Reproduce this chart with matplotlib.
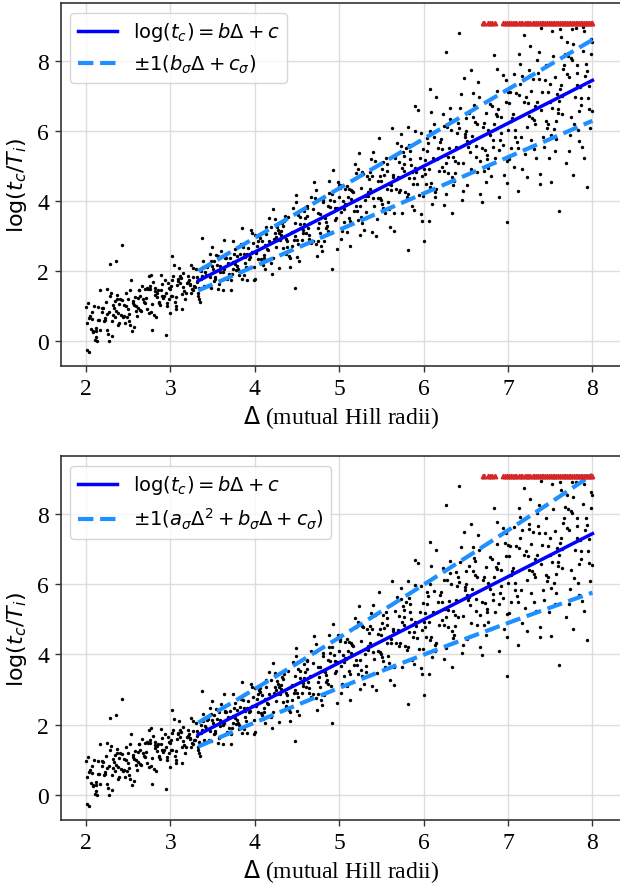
import numpy as np
import matplotlib.pyplot as plt

# instability time vs. spacing in 0.25-wide bands of Delta
delta = [
    # 2.00 - 2.25
    2.012, 2.171, 2.093, 2.228, 2.041, 2.133, 2.204, 2.062, 2.152, 2.023, 2.114, 2.243, 2.081, 2.186, 2.034, 2.145,
    2.213, 2.071, 2.124, 2.004, 2.195, 2.103, 2.052, 2.221, 2.163, 2.088, 2.137, 2.017, 2.236, 2.118, 2.066, 2.247,
    # 2.25 - 2.50
    2.262, 2.421, 2.343, 2.478, 2.291, 2.383, 2.454, 2.312, 2.402, 2.273, 2.364, 2.493, 2.331, 2.436, 2.284, 2.395,
    2.463, 2.321, 2.374, 2.254, 2.445, 2.353, 2.302, 2.471, 2.413, 2.338, 2.387, 2.267, 2.486, 2.368, 2.316, 2.497,
    # 2.50 - 2.75
    2.512, 2.671, 2.593, 2.728, 2.541, 2.633, 2.704, 2.562, 2.652, 2.523, 2.614, 2.743, 2.581, 2.686, 2.534, 2.645,
    2.713, 2.571, 2.624, 2.504, 2.695, 2.603, 2.552, 2.721, 2.663, 2.588, 2.637, 2.517, 2.736, 2.618, 2.566, 2.747,
    # 2.75 - 3.00
    2.762, 2.921, 2.843, 2.978, 2.791, 2.883, 2.954, 2.812, 2.902, 2.773, 2.864, 2.993, 2.831, 2.936, 2.784, 2.895,
    2.963, 2.821, 2.874, 2.754, 2.945, 2.853, 2.802, 2.971, 2.913, 2.838, 2.887, 2.767, 2.986, 2.868, 2.816, 2.997,
    # 3.00 - 3.25
    3.012, 3.171, 3.093, 3.228, 3.041, 3.133, 3.204, 3.062, 3.152, 3.023, 3.114, 3.243, 3.081, 3.186, 3.034, 3.145,
    3.213, 3.071, 3.124, 3.004, 3.195, 3.103, 3.052, 3.221, 3.163, 3.088, 3.137, 3.017, 3.236, 3.118, 3.066, 3.247,
    # 3.25 - 3.50
    3.262, 3.421, 3.343, 3.478, 3.291, 3.383, 3.454, 3.312, 3.402, 3.273, 3.364, 3.493, 3.331, 3.436, 3.284, 3.395,
    3.463, 3.321, 3.374, 3.254, 3.445, 3.353, 3.302, 3.471, 3.413, 3.338, 3.387, 3.267, 3.486, 3.368, 3.316, 3.497,
    # 3.50 - 3.75
    3.512, 3.671, 3.593, 3.728, 3.541, 3.633, 3.704, 3.562, 3.652, 3.523, 3.614, 3.743, 3.581, 3.686, 3.534, 3.645,
    3.713, 3.571, 3.624, 3.504, 3.695, 3.603, 3.552, 3.721, 3.663, 3.588, 3.637, 3.517, 3.736, 3.618, 3.566, 3.747,
    # 3.75 - 4.00
    3.762, 3.921, 3.843, 3.978, 3.791, 3.883, 3.954, 3.812, 3.902, 3.773, 3.864, 3.993, 3.831, 3.936, 3.784, 3.895,
    3.963, 3.821, 3.874, 3.754, 3.945, 3.853, 3.802, 3.971, 3.913, 3.838, 3.887, 3.767, 3.986, 3.868, 3.816, 3.997,
    # 4.00 - 4.25
    4.012, 4.171, 4.093, 4.228, 4.041, 4.133, 4.204, 4.062, 4.152, 4.023, 4.114, 4.243, 4.081, 4.186, 4.034, 4.145,
    4.213, 4.071, 4.124, 4.004, 4.195, 4.103, 4.052, 4.221, 4.163, 4.088, 4.137, 4.017, 4.236, 4.118, 4.066, 4.247,
    # 4.25 - 4.50
    4.262, 4.421, 4.343, 4.478, 4.291, 4.383, 4.454, 4.312, 4.402, 4.273, 4.364, 4.493, 4.331, 4.436, 4.284, 4.395,
    4.463, 4.321, 4.374, 4.254, 4.445, 4.353, 4.302, 4.471, 4.413, 4.338, 4.387, 4.267, 4.486, 4.368, 4.316, 4.497,
    # 4.50 - 4.75
    4.512, 4.671, 4.593, 4.728, 4.541, 4.633, 4.704, 4.562, 4.652, 4.523, 4.614, 4.743, 4.581, 4.686, 4.534, 4.645,
    4.713, 4.571, 4.624, 4.504, 4.695, 4.603, 4.552, 4.721, 4.663, 4.588, 4.637, 4.517, 4.736, 4.618, 4.566, 4.747,
    # 4.75 - 5.00
    4.762, 4.921, 4.843, 4.978, 4.791, 4.883, 4.954, 4.812, 4.902, 4.773, 4.864, 4.993, 4.831, 4.936, 4.784, 4.895,
    4.963, 4.821, 4.874, 4.754, 4.945, 4.853, 4.802, 4.971, 4.913, 4.838, 4.887, 4.767, 4.986, 4.868, 4.816, 4.997,
    # 5.00 - 5.25
    5.012, 5.171, 5.093, 5.228, 5.041, 5.133, 5.204, 5.062, 5.152, 5.023, 5.114, 5.243, 5.081, 5.186, 5.034, 5.145,
    5.213, 5.071, 5.124, 5.004, 5.195, 5.103, 5.052, 5.221, 5.163, 5.088, 5.137, 5.017, 5.236, 5.118, 5.066, 5.247,
    # 5.25 - 5.50
    5.262, 5.421, 5.343, 5.478, 5.291, 5.383, 5.454, 5.312, 5.402, 5.273, 5.364, 5.493, 5.331, 5.436, 5.284, 5.395,
    5.463, 5.321, 5.374, 5.254, 5.445, 5.353, 5.302, 5.471, 5.413, 5.338, 5.387, 5.267, 5.486, 5.368, 5.316, 5.497,
    # 5.50 - 5.75
    5.512, 5.671, 5.593, 5.728, 5.541, 5.633, 5.704, 5.562, 5.652, 5.523, 5.614, 5.743, 5.581, 5.686, 5.534, 5.645,
    5.713, 5.571, 5.624, 5.504, 5.695, 5.603, 5.552, 5.721, 5.663, 5.588, 5.637, 5.517, 5.736, 5.618, 5.566, 5.747,
    # 5.75 - 6.00
    5.762, 5.921, 5.843, 5.978, 5.791, 5.883, 5.954, 5.812, 5.902, 5.773, 5.864, 5.993, 5.831, 5.936, 5.784, 5.895,
    5.963, 5.821, 5.874, 5.754, 5.945, 5.853, 5.802, 5.971, 5.913, 5.838, 5.887, 5.767, 5.986, 5.868, 5.816, 5.997,
    # 6.00 - 6.25
    6.012, 6.171, 6.093, 6.228, 6.041, 6.133, 6.204, 6.062, 6.152, 6.023, 6.114, 6.243, 6.081, 6.186, 6.034, 6.145,
    6.213, 6.071, 6.124, 6.004, 6.195, 6.103, 6.052, 6.221, 6.163, 6.088, 6.137, 6.017, 6.236, 6.118, 6.066, 6.247,
    # 6.25 - 6.50
    6.262, 6.421, 6.343, 6.478, 6.291, 6.383, 6.454, 6.312, 6.402, 6.273, 6.364, 6.493, 6.331, 6.436, 6.284, 6.395,
    6.463, 6.321, 6.374, 6.254, 6.445, 6.353, 6.302, 6.471, 6.413, 6.338, 6.387, 6.267, 6.486, 6.368, 6.316, 6.497,
    # 6.50 - 6.75
    6.512, 6.671, 6.593, 6.728, 6.541, 6.633, 6.704, 6.562, 6.652, 6.523, 6.614, 6.743, 6.581, 6.686, 6.534, 6.645,
    6.713, 6.571, 6.624, 6.504, 6.695, 6.603, 6.552, 6.721, 6.663, 6.588, 6.637, 6.517, 6.736, 6.618, 6.566, 6.747,
    # 6.75 - 7.00
    6.762, 6.921, 6.843, 6.978, 6.791, 6.883, 6.954, 6.812, 6.902, 6.773, 6.864, 6.993, 6.831, 6.936, 6.784, 6.895,
    6.963, 6.821, 6.874, 6.754, 6.945, 6.853, 6.802, 6.971, 6.913, 6.838, 6.887, 6.767, 6.986, 6.868, 6.816, 6.997,
    # 7.00 - 7.25
    7.012, 7.171, 7.093, 7.228, 7.041, 7.133, 7.204, 7.062, 7.152, 7.023, 7.114, 7.243, 7.081, 7.186, 7.034, 7.145,
    7.213, 7.071, 7.124, 7.004, 7.195, 7.103, 7.052, 7.221, 7.163, 7.088, 7.137, 7.017, 7.236, 7.118, 7.066, 7.247,
    # 7.25 - 7.50
    7.262, 7.421, 7.343, 7.478, 7.291, 7.383, 7.454, 7.312, 7.402, 7.273, 7.364, 7.493, 7.331, 7.436, 7.284, 7.395,
    7.463, 7.321, 7.374, 7.254, 7.445, 7.353, 7.302, 7.471, 7.413, 7.338, 7.387, 7.267, 7.486, 7.368, 7.316, 7.497,
    # 7.50 - 7.75
    7.512, 7.671, 7.593, 7.728, 7.541, 7.633, 7.704, 7.562, 7.652, 7.523, 7.614, 7.743, 7.581, 7.686, 7.534, 7.645,
    7.713, 7.571, 7.624, 7.504, 7.695, 7.603, 7.552, 7.721, 7.663, 7.588, 7.637, 7.517, 7.736, 7.618, 7.566, 7.747,
    # 7.75 - 8.00
    7.762, 7.921, 7.843, 7.978, 7.791, 7.883, 7.954, 7.812, 7.902, 7.773, 7.864, 7.993, 7.831, 7.936, 7.784, 7.895,
    7.963, 7.821, 7.874, 7.754, 7.945, 7.853, 7.802, 7.971, 7.913, 7.838, 7.887, 7.767, 7.986, 7.868, 7.816, 7.997,
]

log_tc = [
    0.52, 0.30, 1.00, 0.65, 0.66, 0.00, 0.93, 0.33, 0.58, 1.09, 0.12, 0.77, 0.29, 0.95, -0.33, 0.96,
    0.56, 0.62, 0.27, 0.96, 0.82, 0.03, 0.71, 0.60, 1.44, 0.26, 0.60, -0.25, 1.11, 0.37, 0.83, 0.32,
    0.18, 1.17, 0.68, 0.98, 1.38, 0.46, 1.02, 0.57, 1.18, -0.01, 1.20, 0.90, 0.93, 0.67, 1.27, 1.04,
    0.50, 1.01, 0.78, 1.49, 0.71, 0.85, 0.13, 1.37, 0.73, 1.13, 0.50, 0.82, 0.69, 1.30, 0.75, 1.20,
    0.56, 1.20, 0.85, 1.50, 0.28, 1.44, 1.08, 1.13, 0.85, 1.46, 1.23, 0.78, 1.25, 1.10, 1.74, 0.88,
    1.22, 0.40, 1.46, 0.77, 1.49, 0.70, 1.09, 0.91, 1.58, 1.00, 1.28, 0.44, 1.48, 0.94, 1.01, 1.84,
    1.49, 1.27, 1.38, 1.19, 1.68, 1.46, 0.98, 1.43, 1.27, 1.89, 1.08, 1.48, 0.68, 1.74, 1.04, 1.62,
    1.08, 1.32, 1.03, 1.57, 1.36, 1.45, 0.73, 1.66, 1.23, 1.25, 1.88, 0.81, 1.50, 1.11, 1.50, 0.79,
    1.56, 1.19, 1.72, 1.62, 2.17, 1.35, 1.68, 0.90, 1.94, 1.27, 1.84, 1.37, 1.59, 1.36, 1.86, 1.54,
    1.84, 1.00, 1.79, 1.28, 1.64, 2.09, 1.10, 1.73, 1.42, 1.77, 0.90, 1.75, 1.60, 1.66, 1.24, 2.18,
    1.45, 1.89, 1.19, 2.29, 1.55, 2.11, 1.57, 1.81, 1.56, 2.09, 1.76, 2.13, 1.27, 2.12, 1.57, 1.82,
    2.48, 1.37, 1.86, 1.47, 2.16, 1.11, 2.04, 1.83, 1.97, 1.51, 2.29, 1.82, 1.52, 2.00, 1.67, 2.67,
    2.27, 1.78, 2.14, 1.91, 2.44, 2.06, 2.38, 1.47, 2.37, 1.82, 2.07, 2.86, 1.63, 2.23, 1.77, 2.40,
    1.46, 2.37, 1.98, 2.06, 1.91, 2.58, 2.16, 1.74, 2.36, 1.96, 2.88, 1.72, 2.25, 1.44, 2.41, 2.06,
    2.20, 2.66, 1.76, 2.80, 2.14, 2.39, 3.16, 1.87, 2.48, 2.03, 2.69, 1.74, 2.73, 2.35, 2.41, 2.11,
    3.07, 2.49, 1.88, 2.48, 2.40, 3.21, 2.04, 2.54, 1.75, 2.76, 2.21, 2.61, 2.12, 2.48, 1.99, 3.03,
    2.55, 3.51, 2.17, 2.90, 2.35, 3.06, 1.91, 3.05, 2.60, 2.72, 2.36, 3.48, 2.84, 2.21, 2.86, 2.63,
    3.76, 2.34, 2.73, 1.78, 3.26, 2.46, 3.00, 2.37, 2.86, 2.28, 3.26, 2.52, 3.07, 2.04, 2.94, 2.68,
    3.25, 2.11, 3.43, 3.00, 3.07, 2.67, 3.79, 3.14, 2.43, 3.17, 2.90, 4.18, 2.65, 3.12, 2.07, 3.54,
    2.89, 3.36, 2.53, 2.98, 2.70, 3.57, 2.87, 3.38, 2.36, 3.29, 2.84, 2.87, 3.96, 2.47, 3.02, 2.89,
    2.78, 4.11, 3.50, 2.77, 3.53, 3.22, 4.53, 2.89, 3.38, 2.28, 3.85, 3.21, 3.72, 2.86, 3.33, 2.90,
    4.07, 3.18, 3.58, 2.40, 3.77, 3.08, 3.21, 4.31, 2.79, 3.34, 3.03, 3.59, 2.41, 3.81, 3.09, 3.64,
    3.37, 4.87, 3.22, 3.79, 2.56, 4.22, 3.46, 4.03, 3.09, 3.63, 3.15, 4.46, 3.51, 3.99, 2.70, 4.03,
    3.52, 3.54, 4.56, 2.86, 3.80, 3.28, 3.97, 2.63, 4.21, 3.41, 3.82, 3.08, 4.55, 3.85, 2.84, 4.11,
    4.44, 3.70, 4.43, 3.44, 3.99, 3.43, 4.79, 3.78, 4.28, 2.91, 4.35, 3.85, 3.87, 5.05, 3.15, 4.05,
    3.70, 4.35, 2.71, 4.38, 3.84, 4.11, 3.39, 4.92, 4.25, 3.10, 4.32, 3.68, 5.38, 3.52, 3.91, 3.02,
    3.55, 5.13, 4.13, 4.72, 3.17, 4.72, 4.09, 4.15, 5.40, 3.38, 4.34, 4.02, 4.72, 2.99, 4.78, 4.07,
    4.58, 3.68, 5.19, 4.38, 3.48, 4.62, 4.02, 5.79, 3.86, 4.24, 3.10, 4.82, 4.07, 4.82, 3.50, 4.56,
    4.91, 4.33, 4.49, 5.90, 3.65, 4.67, 4.24, 5.04, 3.13, 5.12, 4.32, 4.94, 3.96, 5.65, 4.75, 3.64,
    5.10, 4.33, 6.09, 3.92, 4.69, 3.26, 5.22, 4.32, 5.23, 3.76, 4.74, 3.81, 5.58, 4.45, 4.85, 3.64,
    4.84, 4.48, 5.43, 3.43, 5.51, 4.64, 5.22, 4.20, 5.99, 5.06, 3.85, 5.48, 4.65, 6.60, 4.24, 4.93,
    3.62, 5.61, 4.49, 5.39, 4.16, 5.02, 4.12, 5.94, 4.82, 5.21, 3.73, 5.27, 4.70, 4.83, 6.10, 4.15,
    4.78, 5.51, 4.51, 6.48, 5.43, 4.11, 5.78, 4.92, 6.98, 4.49, 5.22, 3.87, 6.00, 4.85, 5.79, 4.34,
    5.49, 4.40, 6.20, 4.92, 5.69, 3.92, 5.66, 4.97, 5.20, 6.53, 4.26, 5.17, 4.84, 5.82, 3.43, 6.13,
    4.19, 6.07, 5.25, 7.50, 4.79, 5.54, 4.03, 6.33, 5.08, 6.12, 4.56, 5.84, 4.68, 6.65, 5.26, 5.95,
    4.28, 6.02, 5.13, 5.30, 7.06, 4.46, 5.52, 5.09, 6.22, 3.64, 6.34, 5.08, 5.91, 4.80, 6.66, 6.00,
    5.71, 4.20, 6.74, 5.46, 6.51, 4.83, 6.12, 4.91, 6.98, 5.54, 6.26, 4.55, 6.39, 5.50, 5.65, 7.40,
    4.85, 5.86, 5.25, 6.38, 3.98, 6.67, 5.41, 6.22, 5.13, 7.07, 6.20, 4.44, 6.50, 5.58, 7.73, 5.31,
    4.94, 6.40, 5.22, 7.46, 5.88, 6.62, 4.73, 6.71, 5.74, 5.94, 7.77, 5.14, 6.20, 5.61, 6.77, 4.11,
    7.17, 5.73, 6.43, 5.20, 7.60, 6.49, 4.72, 6.82, 5.94, 8.18, 5.45, 6.03, 4.50, 7.14, 5.55, 7.12,
    6.80, 4.91, 7.09, 6.12, 6.27, 8.19, 5.33, 6.48, 5.83, 7.10, 4.27, 7.57, 6.03, 6.83, 5.50, 7.91,
    6.96, 4.97, 7.04, 6.03, 8.74, 5.67, 6.38, 4.68, 7.56, 5.84, 7.33, 5.19, 6.80, 5.50, 7.63, 6.42,
    8.44, 5.54, 6.84, 6.21, 7.48, 4.49, 7.88, 6.30, 7.11, 5.75, 8.27, 7.33, 5.23, 7.46, 6.37, 8.95,
    6.09, 6.71, 4.78, 7.73, 6.27, 7.65, 5.49, 7.10, 5.83, 8.03, 6.59, 7.15, 5.22, 7.47, 6.21, 6.83,
    4.54, 8.21, 6.63, 7.54, 6.05, 8.68, 7.62, 5.44, 7.76, 6.65, 8.92, 6.40, 7.05, 5.07, 8.14, 6.48,
    8.15, 5.76, 7.31, 5.89, 8.55, 6.85, 7.53, 5.43, 7.88, 6.52, 7.00, 8.86, 5.87, 7.19, 6.29, 8.09,
    8.91, 7.90, 5.71, 8.19, 6.97, 8.97, 6.62, 7.32, 5.23, 8.48, 6.73, 8.54, 6.03, 7.70, 6.19, 8.85,
    7.29, 7.88, 5.53, 8.02, 6.94, 7.26, 8.93, 6.09, 7.56, 6.58, 8.29, 4.74, 8.64, 6.95, 7.66, 6.56,
]

# stragglers away from the main cloud
delta_out = [2.43, 2.28, 2.36, 2.95, 2.78, 3.02, 3.38, 4.48, 4.92, 5.82, 6.00, 6.99, 7.60, 7.94, 5.90, 6.08, 6.27, 6.42]
log_tc_out = [2.74, 2.20, 2.28, 0.17, 0.32, 2.42, 2.95, 1.52, 2.05, 2.60, 2.85, 3.40, 3.70, 4.40, 6.70, 7.20, 8.25, 8.80]

# runs still stable at the end of the integration, pinned at the top
delta_stable = [6.70, 6.72, 6.76, 6.79, 6.81, 6.85,
                6.94, 6.96, 6.99, 7.01, 7.03, 7.06, 7.08, 7.10, 7.13, 7.15, 7.17, 7.20, 7.22, 7.24,
                7.26, 7.29, 7.31, 7.33, 7.35, 7.38, 7.40, 7.42, 7.44, 7.46, 7.49, 7.51, 7.53, 7.55,
                7.57, 7.59, 7.62, 7.64, 7.66, 7.68, 7.70, 7.72, 7.74, 7.76, 7.78, 7.80, 7.82, 7.84,
                7.86, 7.88, 7.90, 7.92, 7.94, 7.96, 7.98, 8.00]
log_stable = 9.08

# fit coefficients
fit_b, fit_c = 1.227, -2.37
sig_b, sig_c = 0.188, -0.347                      # linear spread (top)
sig2_a, sig2_b, sig2_c = 0.0206, 0.054, -0.067    # quadratic spread (bottom)
fit_lo, fit_hi = 3.33, 8.0

plt.rcParams['font.family'] = ['Liberation Serif', 'DejaVu Serif']
plt.rcParams['mathtext.fontset'] = 'dejavusans'
plt.rcParams['font.size'] = 17

fig = plt.figure(figsize=(6.2, 8.87), dpi=100)
ax1 = fig.add_axes([0.0979, 0.5863, 0.9053, 0.4093])
ax2 = fig.add_axes([0.0979, 0.0744, 0.9053, 0.4104])

dd = np.linspace(fit_lo, fit_hi, 100)
mean_line = fit_b * dd + fit_c
sig_lin = sig_b * dd + sig_c
sig_quad = sig2_a * dd**2 + sig2_b * dd + sig2_c


def draw_panel(ax, sigma, sig_label):
    ax.scatter(delta, log_tc, s=6, c='black', linewidths=0, zorder=2)
    ax.scatter(delta_out, log_tc_out, s=6, c='black', linewidths=0, zorder=2)
    ax.plot(dd, mean_line, color='blue', lw=2.5, zorder=3, label=r'$\log(t_c) = b\Delta + c$')
    ax.plot(dd, mean_line + sigma, color='dodgerblue', lw=3, ls='--', zorder=3, label=sig_label)
    ax.plot(dd, mean_line - sigma, color='dodgerblue', lw=3, ls='--', zorder=3)
    ax.plot(delta_stable, [log_stable] * len(delta_stable), ls='none', marker='^',
            ms=3.2, color='#d62728', mec='#d62728', zorder=4)

    ax.set_xlim(1.70, 8.35)
    ax.set_ylim(-0.72, 9.66)
    ax.set_xticks([2, 3, 4, 5, 6, 7, 8])
    ax.set_yticks([0, 2, 4, 6, 8])
    ax.grid(True, color='#dddddd', lw=1.0)
    ax.set_axisbelow(True)
    for sp in ax.spines.values():
        sp.set_color('#333333')
        sp.set_linewidth(1.2)
    ax.tick_params(length=4.5, width=1, color='#333333', labelsize=17, pad=4)
    ax.set_xlabel(r'$\Delta$ (mutual Hill radii)', fontsize=17, labelpad=3)
    ax.set_ylabel(r'$\log(t_c/T_i)$', fontsize=16, labelpad=6)
    ax.legend(loc='upper left', prop={'family': 'DejaVu Sans', 'size': 14})


draw_panel(ax1, sig_lin, r'$\pm1(b_\sigma\Delta + c_\sigma)$')
draw_panel(ax2, sig_quad, r'$\pm1(a_\sigma\Delta^2 + b_\sigma\Delta + c_\sigma)$')

fig.savefig('out.png', dpi=100)
